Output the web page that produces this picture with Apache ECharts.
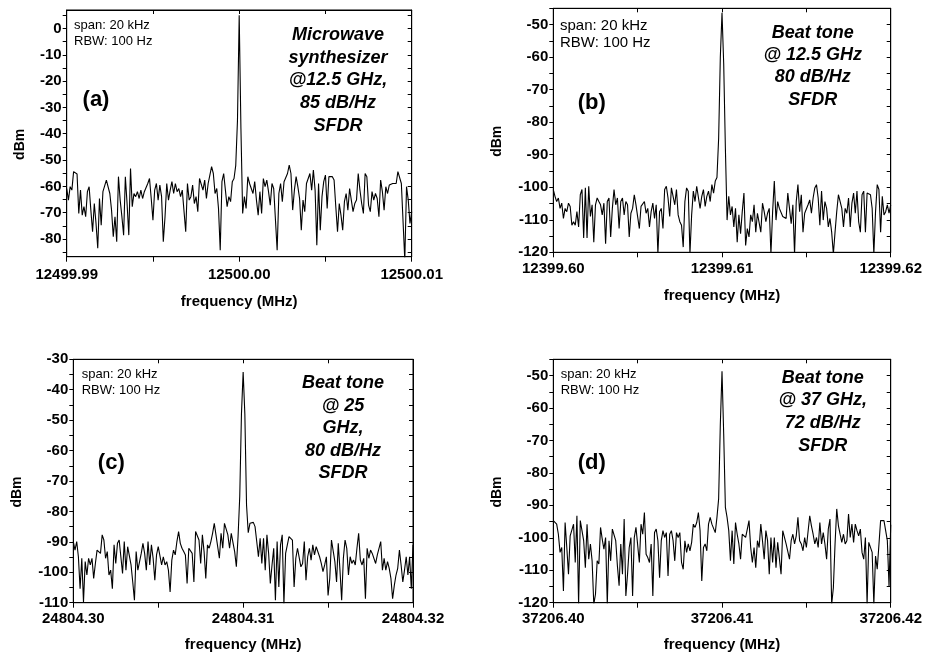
<!DOCTYPE html>
<html>
<head>
<meta charset="utf-8">
<script src="https://cdn.jsdelivr.net/npm/echarts@6/dist/echarts.min.js"></script>
<style>html,body{margin:0;padding:0;background:#fff}#chart{width:925px;height:654px}</style>
</head>
<body>
<div id="chart"></div>
<script>
// ---------------- DATA ----------------
const spanHz = 20000;
// x tick labels (MHz)
const xLabelsA = ['12499.99', '12500.00', '12500.01'];
const xLabelsB = ['12399.60', '12399.61', '12399.62'];
const xLabelsC = ['24804.30', '24804.31', '24804.32'];
const xLabelsD = ['37206.40', '37206.41', '37206.42'];
// y tick labels (dBm)
const yTicksA = [0, -10, -20, -30, -40, -50, -60, -70, -80];
const yTicksB = [-50, -60, -70, -80, -90, -100, -110, -120];
const yTicksC = [-30, -40, -50, -60, -70, -80, -90, -100, -110];
const yTicksD = [-50, -60, -70, -80, -90, -100, -110, -120];
const yRangeA = [-86.7, 7];
const yRangeB = [-120, -45];
const yRangeC = [-110, -30];
const yRangeD = [-120, -45];

// measured power (dBm), 201 points across the 20 kHz span
const dbmA = [
 -60.8,-65.2,-60.1,-61.4,-54.4,-53.8,-55.3,-70.3,-61.4,-70.9,
 -67.7,-71.5,-62.0,-60.1,-69.0,-77.2,-66.5,-74.1,-83.5,-64.6,
 -74.7,-62.0,-61.4,-57.6,-58.2,-62.7,-69.0,-79.1,-71.5,-81.0,
 -56.3,-65.2,-71.5,-78.5,-56.3,-66.5,-78.5,-53.2,-67.7,-62.7,
 -63.9,-62.0,-64.6,-61.4,-64.6,-62.0,-62.7,-58.9,-57.0,-64.6,
 -72.8,-61.4,-58.9,-65.2,-59.5,-63.9,-81.0,-71.5,-58.9,-65.2,
 -61.4,-58.2,-62.7,-58.9,-62.0,-60.8,-63.9,-61.4,-62.0,-77.2,
 -58.9,-65.2,-63.9,-59.5,-66.5,-63.9,-69.6,-57.0,-56.3,-61.4,
 -57.6,-64.6,-58.9,-55.7,-52.5,-55.1,-62.7,-60.8,-68.4,-84.2,
 -58.2,-55.1,-54.4,-67.7,-63.9,-65.8,-58.2,-57.0,-52.0,-35.0,
 5.0,
 -38.0,-70.3,-63.9,-68.4,-56.3,-58.9,-58.2,-62.7,-58.2,-65.2,
 -70.9,-62.0,-70.3,-57.0,-60.1,-57.6,-62.0,-67.1,-58.9,-60.8,
 -61.4,-84.2,-62.7,-58.9,-65.8,-58.2,-58.9,-55.1,-51.9,-55.1,
 -69.0,-61.4,-56.3,-60.1,-64.6,-76.6,-65.2,-69.6,-58.9,-57.0,
 -55.1,-61.4,-53.8,-61.4,-82.3,-58.9,-76.6,-63.9,-58.2,-55.7,
 -68.4,-56.3,-56.3,-56.3,-57.6,-67.7,-77.2,-66.5,-70.9,-76.6,
 -65.8,-62.7,-69.0,-60.8,-65.2,-69.6,-66.5,-65.2,-55.1,-61.4,
 -66.5,-70.3,-55.1,-56.3,-67.1,-69.6,-62.0,-65.2,-62.7,-64.6,
 -71.5,-57.6,-62.0,-69.0,-60.1,-62.7,-59.5,-60.1,-58.9,-58.2,
 -58.9,-54.4,-55.1,-58.9,-59.5,-88.0,-60.1,-65.2,-74.1,-69.6
];
const dbmB = [
 -100.7,-102.8,-104.4,-103.3,-106.5,-104.9,-109.6,-106.5,-107.5,-104.9,
 -105.9,-111.7,-110.6,-111.7,-107.5,-112.2,-102.3,-100.7,-115.6,-100.2,
 -115.6,-99.7,-109.0,-105.4,-116.9,-105.4,-103.3,-104.4,-105.4,-108.5,
 -104.9,-117.4,-104.4,-103.3,-115.3,-106.5,-100.7,-105.4,-103.3,-112.7,
 -104.4,-103.3,-108.5,-104.4,-105.4,-115.3,-108.0,-106.5,-102.3,-105.4,
 -104.9,-112.7,-105.9,-106.5,-104.4,-108.0,-106.5,-112.2,-107.5,-104.9,
 -109.6,-105.4,-120.5,-107.5,-106.5,-112.7,-100.7,-99.7,-103.3,-109.0,
 -100.2,-99.7,-105.4,-100.7,-108.5,-110.6,-111.7,-118.4,-104.4,-100.2,
 -101.2,-120.5,-108.5,-101.2,-104.4,-99.7,-99.2,-106.5,-102.8,-100.7,
 -105.9,-102.8,-101.2,-104.4,-99.2,-101.8,-98.1,-97.0,-85.0,-60.0,
 -46.4,
 -62.0,-88.0,-110.1,-102.8,-108.5,-105.9,-112.2,-106.5,-116.9,-108.5,
 -114.3,-107.5,-101.8,-117.9,-112.7,-115.3,-108.5,-110.6,-105.4,-113.8,
 -108.0,-108.5,-113.8,-104.9,-107.5,-110.6,-108.0,-106.5,-120.5,-107.5,
 -98.1,-110.1,-104.4,-106.5,-105.9,-109.0,-108.5,-109.6,-101.8,-102.3,
 -111.2,-105.4,-120.5,-104.4,-99.2,-107.5,-102.3,-113.8,-108.0,-107.5,
 -105.4,-103.9,-108.0,-103.3,-100.2,-99.2,-103.3,-111.7,-101.2,-110.1,
 -104.4,-106.5,-112.2,-109.6,-113.8,-120.5,-113.8,-107.5,-102.3,-102.8,
 -106.5,-112.2,-106.5,-108.0,-103.3,-112.2,-104.9,-101.8,-108.0,-101.2,
 -110.6,-113.8,-102.3,-101.2,-113.8,-101.8,-101.8,-102.3,-106.5,-120.5,
 -107.5,-99.2,-100.7,-113.8,-102.8,-108.5,-107.5,-105.4,-108.0,-105.4
];
const dbmC = [
 -89.9,-92.7,-89.9,-94.9,-105.4,-95.4,-109.8,-96.5,-100.9,-95.4,
 -97.6,-95.4,-102.0,-97.1,-92.7,-92.1,-93.8,-87.7,-89.4,-95.4,
 -93.2,-100.9,-99.3,-105.4,-91.0,-97.1,-90.5,-89.4,-94.9,-100.4,
 -89.9,-99.3,-91.6,-92.1,-97.6,-103.2,-109.2,-93.2,-99.3,-98.7,
 -93.8,-90.5,-93.8,-99.3,-89.9,-97.6,-91.0,-95.4,-102.6,-94.3,
 -91.6,-91.0,-97.6,-94.9,-97.6,-96.5,-99.3,-106.5,-96.0,-92.7,
 -94.3,-89.9,-86.6,-90.5,-92.1,-93.2,-94.3,-103.7,-92.1,-92.1,
 -93.8,-103.2,-86.6,-87.2,-89.4,-97.1,-87.7,-93.2,-102.0,-91.0,
 -92.1,-89.9,-87.2,-83.9,-87.7,-87.2,-95.4,-87.2,-92.1,-83.9,
 -84.4,-87.7,-92.1,-87.2,-87.7,-93.2,-98.2,-88.3,-75.0,-48.0,
 -34.2,
 -48.0,-78.0,-87.0,-83.9,-83.9,-83.6,-85.0,-89.9,-94.9,-88.8,
 -97.1,-88.8,-99.3,-87.7,-93.8,-103.7,-97.6,-92.1,-109.2,-89.9,
 -104.8,-91.0,-87.7,-110.5,-93.8,-93.2,-88.3,-88.8,-89.4,-104.8,
 -95.4,-92.1,-91.6,-98.2,-97.1,-89.9,-102.6,-94.9,-92.1,-96.0,
 -91.0,-94.3,-91.6,-92.1,-94.9,-97.1,-99.8,-97.6,-94.9,-107.6,
 -102.0,-89.4,-88.8,-96.5,-103.2,-90.5,-99.3,-109.2,-95.4,-89.4,
 -92.1,-100.9,-94.9,-97.1,-96.0,-97.6,-92.1,-87.2,-96.0,-97.6,
 -95.4,-108.7,-92.1,-95.4,-92.7,-93.8,-93.2,-97.1,-94.3,-94.9,
 -89.9,-99.3,-95.4,-99.3,-96.5,-98.7,-102.0,-108.7,-104.3,-100.9,
 -98.7,-92.7,-97.6,-103.2,-99.3,-94.9,-100.9,-94.9,-105.4,-91.0
];
const dbmD = [
 -94.7,-94.2,-95.8,-98.9,-104.5,-103.0,-116.4,-95.3,-103.0,-111.2,
 -99.4,-98.9,-95.8,-107.6,-93.2,-120.5,-94.7,-95.3,-100.9,-109.2,
 -95.8,-106.6,-101.9,-107.1,-120.5,-117.4,-107.1,-108.1,-96.8,-100.4,
 -103.5,-99.9,-120.5,-100.9,-107.1,-97.3,-96.8,-100.9,-108.7,-114.8,
 -101.9,-111.2,-94.2,-117.9,-111.2,-103.0,-99.9,-117.9,-99.9,-96.8,
 -96.8,-107.6,-95.8,-98.9,-92.2,-105.1,-106.1,-107.6,-101.9,-117.9,
 -98.4,-97.3,-100.9,-112.3,-100.9,-97.8,-99.9,-98.4,-111.8,-98.9,
 -97.8,-100.9,-107.1,-98.4,-99.9,-98.4,-107.6,-109.7,-100.9,-104.5,
 -101.9,-104.0,-101.4,-95.8,-96.8,-95.3,-92.2,-97.8,-113.3,-103.0,
 -101.9,-104.0,-95.8,-93.7,-95.8,-96.3,-98.4,-93.7,-88.0,-65.0,
 -48.7,
 -68.0,-90.6,-93.7,-97.8,-107.1,-97.8,-108.1,-95.3,-98.9,-101.9,
 -106.6,-98.9,-98.4,-99.9,-97.3,-94.7,-103.0,-107.6,-103.0,-109.2,
 -100.9,-103.0,-95.8,-100.9,-106.6,-97.8,-100.9,-111.2,-99.9,-107.6,
 -99.9,-109.2,-101.4,-101.9,-111.2,-97.8,-97.3,-101.9,-102.5,-106.6,
 -100.9,-98.9,-101.9,-99.4,-93.7,-100.9,-101.9,-104.0,-99.9,-103.0,
 -102.5,-93.2,-96.3,-98.9,-101.9,-99.9,-103.0,-95.3,-101.9,-98.4,
 -101.9,-106.6,-97.3,-94.2,-120.5,-115.4,-101.9,-91.1,-96.3,-98.9,
 -101.4,-98.9,-101.9,-100.9,-92.7,-99.9,-95.8,-101.4,-95.8,-97.8,
 -99.4,-97.3,-104.5,-106.6,-99.9,-120.5,-101.4,-101.9,-104.5,-120.5,
 -105.6,-109.7,-109.2,-94.7,-94.2,-94.7,-97.8,-100.9,-115.0,-96.0
];

// annotation texts
const noteA = ['Microwave', 'synthesizer', '@12.5 GHz,', '85 dB/Hz', 'SFDR'];
const noteB = ['Beat tone', '@ 12.5 GHz', '80 dB/Hz', 'SFDR'];
const noteC = ['Beat tone', '@ 25', 'GHz,', '80 dB/Hz', 'SFDR'];
const noteD = ['Beat tone', '@ 37 GHz,', '72 dB/Hz', 'SFDR'];
const settingText = ['span: 20 kHz', 'RBW: 100 Hz'];
const panelTags = ['(a)', '(b)', '(c)', '(d)'];

// ---------------- LAYOUT ----------------
const FONT = "'Liberation Sans', Arial, Helvetica, sans-serif";
const panels = [
  {vals: dbmA, xl: xLabelsA, yt: yTicksA, yr: yRangeA, grid: {left: 66.7, top: 10, width: 345, height: 246.7}, lblM: 11, nameGap: 38, yNameGap: 40},
  {vals: dbmB, xl: xLabelsB, yt: yTicksB, yr: yRangeB, grid: {left: 553.3, top: 8.3, width: 338.7, height: 244}, lblM: 9, nameGap: 36, yNameGap: 49},
  {vals: dbmC, xl: xLabelsC, yt: yTicksC, yr: yRangeC, grid: {left: 73.3, top: 359.3, width: 339.7, height: 243.4}, lblM: 9, nameGap: 35, yNameGap: 49},
  {vals: dbmD, xl: xLabelsD, yt: yTicksD, yr: yRangeD, grid: {left: 553.3, top: 359.3, width: 338.7, height: 243.4}, lblM: 9, nameGap: 35, yNameGap: 49}
];

function allTicks(yt, yr) {
  const out = [];
  const hi = Math.max(...yt), lo = Math.min(...yt);
  for (let v = hi + 5; v >= lo - 5; v -= 5) {
    if (v >= yr[0] && v <= yr[1]) out.push(v);
  }
  return out;
}

const grids = [], xAxes = [], yAxes = [], series = [];
const black = '#000';
panels.forEach((p, i) => {
  grids.push(Object.assign({show: true, borderColor: black, borderWidth: 1, backgroundColor: '#fff'}, p.grid));
  const half = spanHz / 2;
  const labels = p.xl;
  xAxes.push({
    type: 'value', gridIndex: i, position: 'bottom', min: -half, max: half, interval: half / 2,
    axisLine: {show: true, onZero: false, lineStyle: {color: black, width: 1}},
    axisTick: {show: true, inside: false, length: 5, lineStyle: {color: black, width: 1}},
    splitLine: {show: false},
    axisLabel: {
      color: black, fontFamily: FONT, fontWeight: 'bold', fontSize: 15, margin: p.lblM,
      formatter: v => (v === -half ? labels[0] : v === 0 ? labels[1] : v === half ? labels[2] : '')
    },
    name: 'frequency (MHz)', nameLocation: 'middle', nameGap: p.nameGap,
    nameTextStyle: {color: black, fontFamily: FONT, fontWeight: 'bold', fontSize: 15}
  });
  xAxes.push({
    type: 'value', gridIndex: i, position: 'top', min: -half, max: half, interval: half / 2,
    axisLine: {show: true, onZero: false, lineStyle: {color: black, width: 1}},
    axisTick: {show: true, inside: true, length: 4, lineStyle: {color: black, width: 1}},
    splitLine: {show: false}, axisLabel: {show: false}
  });
  const ticks = allTicks(p.yt, p.yr);
  yAxes.push({
    type: 'value', gridIndex: i, position: 'left', min: p.yr[0], max: p.yr[1],
    axisLine: {show: true, onZero: false, lineStyle: {color: black, width: 1}},
    axisTick: {show: true, inside: false, length: 4, customValues: ticks, lineStyle: {color: black, width: 1}},
    axisLabel: {customValues: p.yt, color: black, fontFamily: FONT, fontWeight: 'bold', fontSize: 15, margin: 5},
    splitLine: {show: false},
    name: 'dBm', nameLocation: 'middle', nameGap: p.yNameGap,
    nameTextStyle: {color: black, fontFamily: FONT, fontWeight: 'bold', fontSize: 14, padding: [0, 22, 0, 0]}
  });
  yAxes.push({
    type: 'value', gridIndex: i, position: 'right', min: p.yr[0], max: p.yr[1],
    axisLine: {show: true, onZero: false, lineStyle: {color: black, width: 1}},
    axisTick: {show: true, inside: true, length: 4, customValues: ticks, lineStyle: {color: black, width: 1}},
    axisLabel: {show: false}, splitLine: {show: false}
  });
  const n = p.vals.length;
  series.push({
    type: 'line', xAxisIndex: 2 * i, yAxisIndex: 2 * i, showSymbol: false, symbol: 'none',
    lineStyle: {color: black, width: 1.1}, clip: true, animation: false,
    data: p.vals.map((v, k) => [-half + k * spanHz / (n - 1), v])
  });
});

function txt(text, x, y, font, align, vAlign, lh) {
  return {type: 'text', z: 100, style: {text, x, y, font, fill: black, align, verticalAlign: vAlign, textAlign: align, textVerticalAlign: vAlign, lineHeight: lh}};
}
const graphics = [
  txt(settingText.join('\n'), 74, 17.5, "13px " + FONT, 'left', 'top', 16),
  txt(settingText.join('\n'), 560, 17.3, "15px " + FONT, 'left', 'top', 17.3),
  txt(settingText.join('\n'), 81.7, 366.4, "13px " + FONT, 'left', 'top', 15.7),
  txt(settingText.join('\n'), 560.7, 366.4, "13px " + FONT, 'left', 'top', 15.7),
  txt(noteA.join('\n'), 338, 23.6, "italic bold 18px " + FONT, 'center', 'top', 22.75),
  txt(noteB.join('\n'), 812.7, 21.5, "italic bold 18px " + FONT, 'center', 'top', 22.4),
  txt(noteC.join('\n'), 343, 372, "italic bold 18px " + FONT, 'center', 'top', 22.5),
  txt(noteD.join('\n'), 822.7, 366.3, "italic bold 18px " + FONT, 'center', 'top', 22.8),
  txt(panelTags[0], 96, 100, "bold 22px " + FONT, 'center', 'middle'),
  txt(panelTags[1], 591.7, 103.3, "bold 22px " + FONT, 'center', 'middle'),
  txt(panelTags[2], 111.3, 462.7, "bold 22px " + FONT, 'center', 'middle'),
  txt(panelTags[3], 591.7, 462.7, "bold 22px " + FONT, 'center', 'middle')
];

const chart = echarts.init(document.getElementById('chart'), null, {renderer: 'canvas'});
chart.setOption({
  animation: false,
  backgroundColor: '#fff',
  grid: grids, xAxis: xAxes, yAxis: yAxes, series: series,
  graphic: graphics
});
</script>
</body>
</html>
